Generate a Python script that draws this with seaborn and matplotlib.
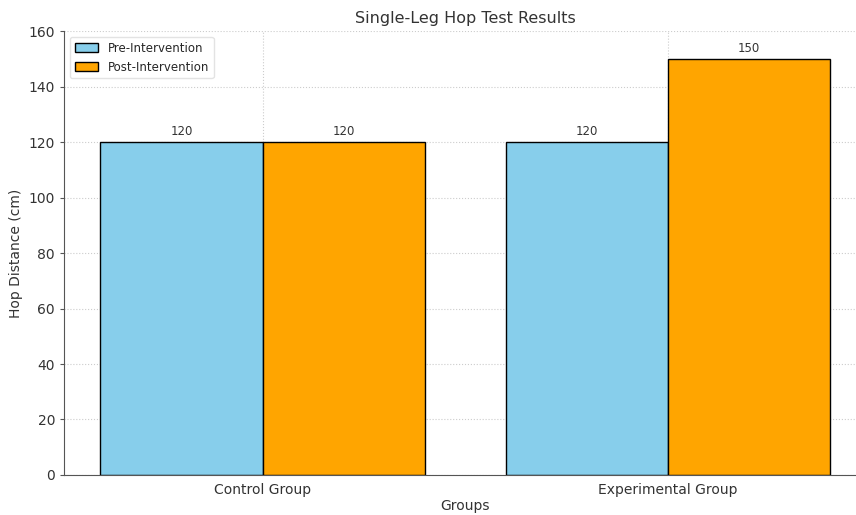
import numpy as np
import pandas as pd
import matplotlib
matplotlib.use("Agg")
import matplotlib.pyplot as plt
import seaborn as sns

groups = ["Control Group", "Experimental Group"]
phases = ["Pre-Intervention", "Post-Intervention"]
pre_values = [120, 120]
post_values = [120, 150]

df = pd.DataFrame({
    "Group": groups * 2,
    "Phase": [phases[0]] * 2 + [phases[1]] * 2,
    "Distance": pre_values + post_values,
})

sns.set_style("whitegrid", {"grid.linestyle": ":", "grid.color": "#cccccc",
                            "axes.edgecolor": "#555555",
                            "xtick.bottom": False, "ytick.left": True})
plt.rcParams["font.family"] = ["DejaVu Sans"]

fig = plt.figure(figsize=(8.56, 5.15), dpi=100)
ax = fig.add_axes([0.0748, 0.0777, 0.937, 0.862])

sns.barplot(data=df, x="Group", y="Distance", hue="Phase",
            palette=["skyblue", "orange"], saturation=1,
            edgecolor="black", linewidth=1,
            width=0.8, ax=ax, errorbar=None)

for c in ax.containers:
    ax.bar_label(c, fmt="%d", padding=3, fontsize=8.5, color="#333333")

ax.set_xlim(-0.49, 1.49)
ax.set_ylim(0, 160)
ax.set_yticks(range(0, 161, 20))
ax.grid(True, axis="both", linestyle=":", color="#cccccc")
ax.set_axisbelow(True)
ax.set_title("Single-Leg Hop Test Results", fontsize=11.5, color="#333333", pad=6)
ax.set_xlabel("Groups", fontsize=10, color="#333333", labelpad=2)
ax.set_ylabel("Hop Distance (cm)", fontsize=10, color="#333333")
ax.tick_params(axis="x", labelsize=10, colors="#333333", pad=2)
ax.tick_params(axis="y", labelsize=10, colors="#333333", length=3, color="#555555")
ax.spines["top"].set_visible(False)
ax.spines["right"].set_visible(False)
ax.legend(loc="upper left", fontsize=8.5, frameon=True, edgecolor="#dddddd",
          title=None)

fig.savefig("out.png", dpi=100)
